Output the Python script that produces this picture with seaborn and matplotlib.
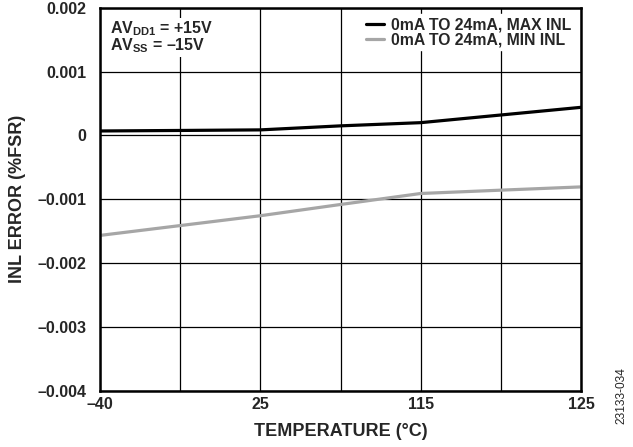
import numpy as np
import pandas as pd
import matplotlib
matplotlib.use("Agg")
import matplotlib.pyplot as plt
import seaborn as sns

# Data (x positions are evenly spaced grid steps; labels at every other step)
x_steps = [0, 1, 2, 3, 4, 5, 6]
max_inl = [0.00007, 0.000078, 0.000087, 0.00015, 0.0002, 0.00032, 0.00044]
min_inl = [-0.001564, -0.00141, -0.001256, -0.00108, -0.000908, -0.000856, -0.000805]
series_names = ["0mA TO 24mA, MAX INL", "0mA TO 24mA, MIN INL"]
x_tick_labels = ["–40", "", "25", "", "115", "", "125"]
y_ticks = [0.002, 0.001, 0, -0.001, -0.002, -0.003, -0.004]
y_tick_labels = ["0.002", "0.001", "0", "–0.001", "–0.002", "–0.003", "–0.004"]

df = pd.DataFrame({
    "x": x_steps * 2,
    "y": max_inl + min_inl,
    "series": [series_names[0]] * len(x_steps) + [series_names[1]] * len(x_steps),
})

sns.set_style("white")
plt.rcParams["font.family"] = ["Liberation Sans", "DejaVu Sans"]
plt.rcParams["font.weight"] = "bold"
plt.rcParams["mathtext.fontset"] = "custom"
plt.rcParams["mathtext.rm"] = "Liberation Sans:bold"
plt.rcParams["mathtext.bf"] = "Liberation Sans:bold"

fig = plt.figure(figsize=(6.33, 4.47), dpi=100)
ax = fig.add_axes([0.158, 0.125, 0.76, 0.858])

sns.lineplot(data=df, x="x", y="y", hue="series",
             palette={series_names[0]: "#000000", series_names[1]: "#a6a6a6"},
             linewidth=2.3, ax=ax, legend=True)

ax.set_xlim(0, 6)
ax.set_ylim(-0.004, 0.002)
ax.set_xticks(x_steps)
ax.set_xticklabels(x_tick_labels, fontsize=11.5, fontweight="bold")
ax.set_yticks(y_ticks)
ax.set_yticklabels(y_tick_labels, fontsize=11.5, fontweight="bold")
ax.tick_params(axis="y", length=0, pad=10)
ax.tick_params(axis="x", length=0, pad=4)
ax.grid(True, color="#000000", linewidth=0.9)
ax.set_axisbelow(True)
for s in ax.spines.values():
    s.set_visible(True)
    s.set_color("#000000")
    s.set_linewidth(1.8)

ax.set_xlabel("TEMPERATURE (°C)", fontsize=13, fontweight="bold", labelpad=8)
ax.set_ylabel("INL ERROR (%FSR)", fontsize=13, fontweight="bold", labelpad=8)

leg = ax.legend(loc="upper right", frameon=True, fontsize=11.3, handlelength=1.1,
                handletextpad=0.5, labelspacing=0.0, borderaxespad=0.4,
                borderpad=0.2)
leg.get_frame().set_edgecolor("white")
leg.get_frame().set_facecolor("white")
leg.get_frame().set_alpha(1)
for t in leg.get_texts():
    t.set_fontweight("bold")

ax.text(0.02, 0.97, r"AV$_{\mathregular{DD1}}$ = +15V" + "\n" + r"AV$_{\mathregular{SS}}$ = –15V",
        transform=ax.transAxes, fontsize=11.5, fontweight="bold", va="top", ha="left",
        linespacing=0.9,
        bbox=dict(facecolor="white", edgecolor="none", pad=1))

fig.text(0.982, 0.116, "23133-034", rotation=90, fontsize=8.6, fontweight="normal",
         ha="center", va="center")

fig.savefig("out.png", dpi=100)
